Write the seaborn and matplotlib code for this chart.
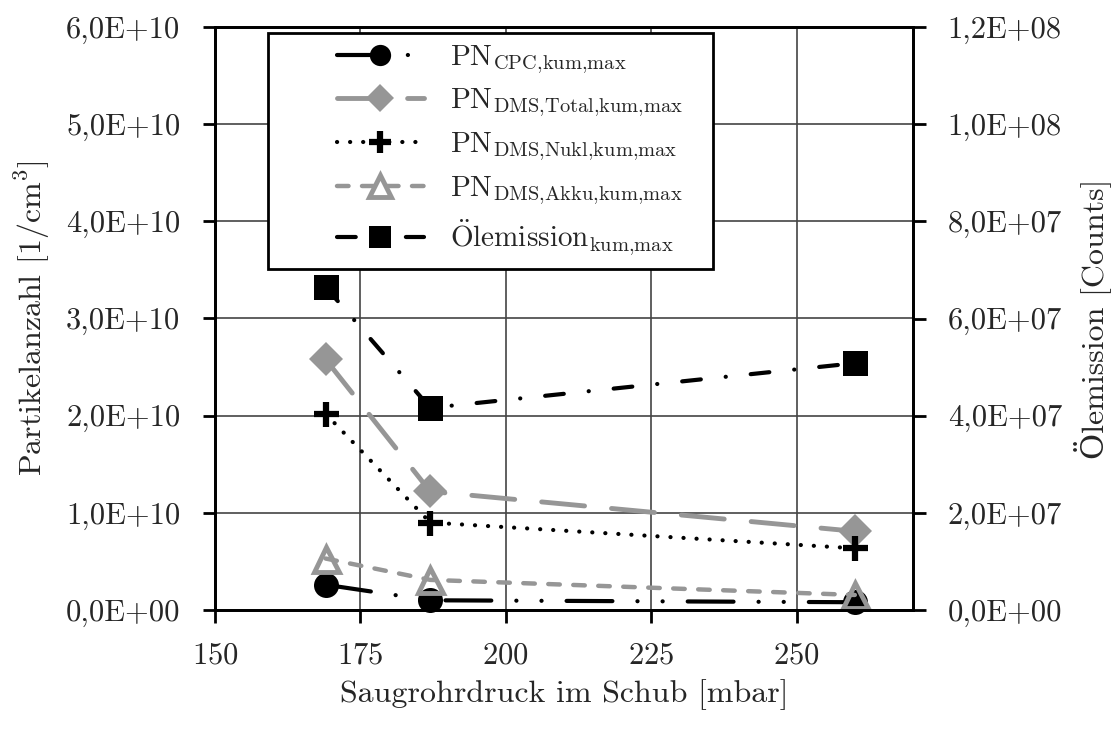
import matplotlib
matplotlib.use("Agg")
import matplotlib.pyplot as plt
from matplotlib.lines import Line2D
from matplotlib.legend_handler import HandlerLine2D
from matplotlib.ticker import FuncFormatter, MultipleLocator
import seaborn as sns

# data
druck = [169, 187, 260]
pn_cpc = [2.6e9, 1.0e9, 0.8e9]
pn_total = [2.58e10, 1.22e10, 0.81e10]
pn_nukl = [2.02e10, 0.90e10, 0.635e10]
pn_akku = [0.53e10, 0.31e10, 0.155e10]
oel = [6.65e7, 4.16e7, 5.08e7]

labels = [r"PN$_\mathrm{CPC{,}kum{,}max}$",
          r"PN$_\mathrm{DMS{,}Total{,}kum{,}max}$",
          r"PN$_\mathrm{DMS{,}Nukl{,}kum{,}max}$",
          r"PN$_\mathrm{DMS{,}Akku{,}kum{,}max}$",
          r"$\ddot{\mathrm{O}}$lemission$_\mathrm{kum{,}max}$"]

sns.set_style("white")
plt.rcParams["font.family"] = ["cmr10", "DejaVu Serif"]
plt.rcParams["mathtext.fontset"] = "cm"
plt.rcParams["axes.formatter.use_mathtext"] = True
plt.rcParams["lines.scale_dashes"] = False

grey = "#969696"

fig, ax = plt.subplots(figsize=(11.15, 7.31), dpi=100)
fig.subplots_adjust(left=215/1115, right=913/1115, bottom=1-610/731, top=1-27/731)
ax2 = ax.twinx()

common = dict(dash_capstyle="round", solid_capstyle="round", legend=False, clip_on=False)

sns.lineplot(x=druck, y=pn_cpc, ax=ax, color="black", lw=3, marker="o", ms=18,
             mec="black", mew=0, linestyle=(0, (33, 18, 0.1, 18, 0.1, 18)),
             label=labels[0], **common)
sns.lineplot(x=druck, y=pn_total, ax=ax, color=grey, lw=3.5, marker="D", ms=17,
             mec=grey, mew=0, linestyle=(0, (31, 19.5)),
             label=labels[1], **common)
sns.lineplot(x=druck, y=pn_nukl, ax=ax, color="black", lw=3, marker="+", ms=18,
             mec="black", mew=4.5, linestyle=(0, (0.1, 9.3)),
             label=labels[2], **common)
sns.lineplot(x=druck, y=pn_akku, ax=ax, color=grey, lw=3.2, marker="^", ms=18,
             mec=grey, mfc="none", mew=3.5, linestyle=(0, (8.3, 9.7)),
             label=labels[3], **common)
sns.lineplot(x=druck, y=oel, ax=ax2, color="black", lw=3, marker="s", ms=18,
             mec="black", mew=0, linestyle=(0, (13.5, 18, 0.1, 18)),
             label=labels[4], **common)

ax.set_xlim(150, 270)
ax.set_ylim(0, 6e10)
ax2.set_ylim(0, 1.2e8)
ax.xaxis.set_major_locator(MultipleLocator(25))
ax.yaxis.set_major_locator(MultipleLocator(1e10))
ax2.yaxis.set_major_locator(MultipleLocator(2e7))

fmt = FuncFormatter(lambda v, p: format(v, ".1E").replace(".", ","))
ax.yaxis.set_major_formatter(fmt)
ax2.yaxis.set_major_formatter(fmt)

ax.grid(True, color="#444444", lw=1.2)
ax.set_axisbelow(True)
for a in (ax, ax2):
    for s in a.spines.values():
        s.set_linewidth(2)
        s.set_color("black")
    a.tick_params(direction="out", length=9, width=2, color="black", labelsize=22)
ax.tick_params(axis="y", pad=16, left=True)
ax.tick_params(axis="x", pad=14, bottom=True)
ax2.tick_params(axis="y", pad=16, right=True)

ax.set_xlabel("Saugrohrdruck im Schub [mbar]", fontsize=23, labelpad=7)
ax.set_ylabel(r"Partikelanzahl [1/cm$^3$]", fontsize=23, labelpad=10)
ax2.set_ylabel("Ölemission [Counts]", fontsize=23, labelpad=8)

h1, l1 = ax.get_legend_handles_labels()
h2, l2 = ax2.get_legend_handles_labels()
leg = ax2.legend(h1 + h2, l1 + l2, loc="upper left", mode="expand",
                 bbox_to_anchor=(0.076, 0.0, 0.6375, 0.99),
                 borderaxespad=0, fontsize=21, handlelength=5.0, handletextpad=0.9,
                 labelspacing=0.38, borderpad=0.35, fancybox=False, framealpha=1,
                 markerscale=0.85, edgecolor="black",
                 handler_map={Line2D: HandlerLine2D(xpad=2.0)})
leg.get_frame().set_linewidth(2)

fig.savefig("out.png", dpi=100)
